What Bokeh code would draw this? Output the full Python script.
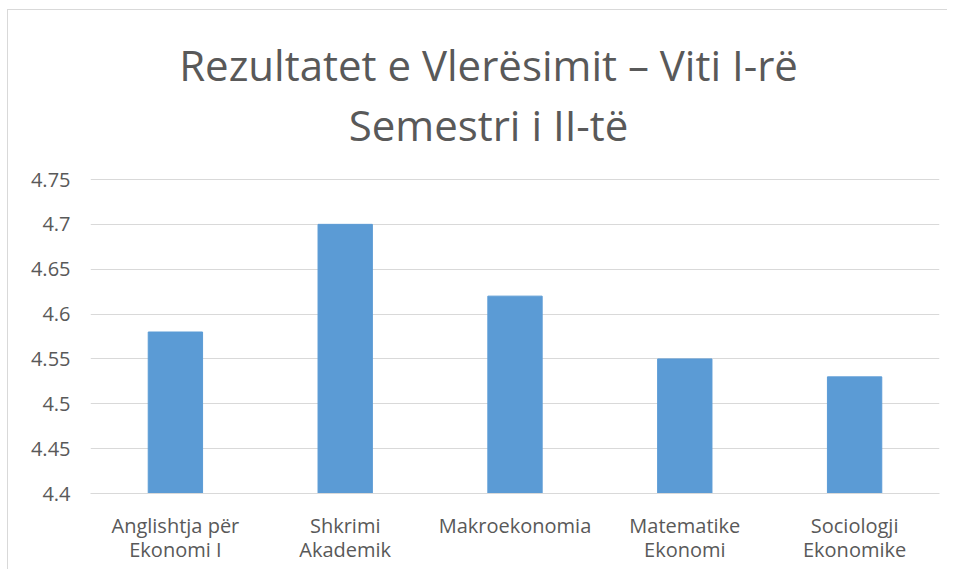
from bokeh.plotting import figure
from bokeh.models import FactorRange, Range1d, Label, ColumnDataSource
from bokeh.embed import file_html
from bokeh.resources import INLINE

categories = ["Anglishtja për\nEkonomi I", "Shkrimi\nAkademik", "Makroekonomia",
              "Matematike\nEkonomi", "Sociologji\nEkonomike"]
values = [4.58, 4.70, 4.62, 4.55, 4.53]
y_ticks = [4.4, 4.45, 4.5, 4.55, 4.6, 4.65, 4.7, 4.75]
y_tick_labels = ["4.4", "4.45", "4.5", "4.55", "4.6", "4.65", "4.7", "4.75"]
title_lines = ["Rezultatet e Vlerësimit – Viti I-rë", "Semestri i II-të"]

FONT = "Open Sans"
TXT = "#595959"

# layout (pixels): value axis spans 4.4 -> 4.75 over 314 px; the frame is
# stretched up to the top of the canvas so that the title lives inside it.
Y0, Y1 = y_ticks[0], y_ticks[-1]
AXIS_PX = 314.0
FRAME_H = 483.0
per_px = (Y1 - Y0) / AXIS_PX
y_top = Y0 + FRAME_H * per_px

def px_above_base(px):
    return Y0 + px * per_px

src = ColumnDataSource(dict(cat=categories, val=values))

p = figure(width=940, height=560, output_backend="svg", toolbar_location=None,
           x_range=FactorRange(factors=categories, range_padding=0),
           y_range=Range1d(Y0, y_top),
           min_border_left=82, min_border_right=9, min_border_top=0, min_border_bottom=77)
p.vbar(x="cat", top="val", bottom=Y0, width=0.32, color="#5b9bd5", source=src)

p.outline_line_color = None
p.background_fill_color = "white"
p.border_fill_color = "white"
p.xgrid.grid_line_color = None
p.ygrid.grid_line_color = "#d9d9d9"
p.ygrid.grid_line_width = 1
p.yaxis.ticker = y_ticks
p.yaxis.major_label_overrides = {t: l for t, l in zip(y_ticks, y_tick_labels)}
p.yaxis.axis_line_color = None
p.yaxis.major_tick_line_color = None
p.yaxis.minor_tick_line_color = None
p.yaxis.major_label_standoff = 14
p.xaxis.axis_line_color = "#d9d9d9"
p.xaxis.major_tick_line_color = None
p.xaxis.major_label_standoff = 12
p.xaxis.major_label_text_line_height = 0.92
for ax in (p.xaxis[0], p.yaxis[0]):
    ax.major_label_text_font = FONT
    ax.major_label_text_font_size = "20px"
    ax.major_label_text_color = TXT

title_x = (489.5 - 91.0) / 170.0          # synthetic categorical coordinate
for t, base_px in zip(title_lines, [429, 369]):
    p.add_layout(Label(x=title_x, y=px_above_base(base_px), text=t,
                       text_align="center", text_baseline="alphabetic",
                       text_font=FONT, text_font_size="42px", text_color=TXT))

p.styles = {"border-left": "1px solid #d9d9d9", "border-top": "1px solid #d9d9d9",
            "margin-left": "7px", "margin-top": "9px"}

open("out.html", "w").write(file_html(p, INLINE))
